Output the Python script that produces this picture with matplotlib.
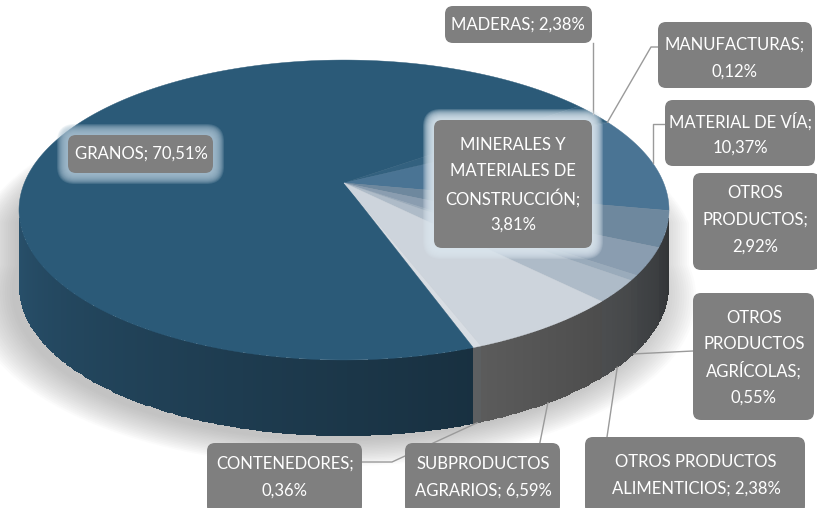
import numpy as np
import matplotlib
matplotlib.use("Agg")
import matplotlib.pyplot as plt
from matplotlib.patches import Polygon, FancyBboxPatch
from matplotlib.colors import to_rgb

# =====================================================
# DADOS
# =====================================================
categorias = ["CONTENEDORES", "GRANOS", "MADERAS", "MANUFACTURAS",
              "MATERIAL DE VÍA", "MINERALES Y MATERIALES DE CONSTRUCCIÓN",
              "OTROS PRODUCTOS", "OTROS PRODUCTOS AGRÍCOLAS",
              "OTROS PRODUCTOS ALIMENTICIOS", "SUBPRODUCTOS AGRARIOS"]
valores = [0.36, 70.51, 2.38, 0.12, 10.37, 3.81, 2.92, 0.55, 2.38, 6.59]
rotulos = [["CONTENEDORES;", "0,36%"],
           ["GRANOS; 70,51%"],
           ["MADERAS; 2,38%"],
           ["MANUFACTURAS;", "0,12%"],
           ["MATERIAL DE VÍA;", "10,37%"],
           ["MINERALES Y", "MATERIALES DE", "CONSTRUCCIÓN;", "3,81%"],
           ["OTROS", "PRODUCTOS;", "2,92%"],
           ["OTROS", "PRODUCTOS", "AGRÍCOLAS;", "0,55%"],
           ["OTROS PRODUCTOS", "ALIMENTICIOS; 2,38%"],
           ["SUBPRODUCTOS", "AGRARIOS; 6,59%"]]

# =====================================================
# ESTILO / LAYOUT
# =====================================================
cores_topo = ["#d8dde3", "#2b5a78", "#33617f", "#3b6785", "#4a7494",
              "#6e889e", "#8a9db0", "#9aabbb", "#aebbc8", "#cdd4dc"]
cores_lado = ["#a2a6aa", "#2a5470", "#2e5874", "#365e7a", "#7e868e",
              "#8e959c", "#969ca2", "#9a9fa4", "#9ea2a6", "#a0a0a0"]

# caixas (x0, y0, x1, y1) e centro do texto
caixas = [(207, 443, 362, 514), (68, 135, 213, 173), (445, 6, 592, 43),
          (658, 22, 812, 88), (665, 100, 815, 166), (434, 120, 592, 248),
          (693, 173, 820, 270), (693, 293, 814, 420), (585, 437, 805, 514),
          (405, 443, 560, 514)]
centros = [(285, 477), (141, 154), (518, 25), (735, 58), (740, 134.5),
           (513, 184.5), (755, 220), (754, 357.5), (696, 475.5), (483, 477)]
brilho = {1: "#a9c1d1", 5: "#dce7ef"}

AX, AY = 344, 183        # centro da pizza na tela
SX, SY = 319.7, 145.1    # escala
P = 0.18                 # perspectiva
PROF = 76                # espessura
INICIO = 69.1            # angulo inicial (graus, horario a partir das 3h)
W, H = 817, 508


def proj(theta, r=1.0, z=0.0):
    t = np.radians(theta)
    u = r * np.cos(t)
    v = r * np.sin(t)
    w = 1 - P * v
    return AX + SX * u / w, AY + SY * v / w + z


fig = plt.figure(figsize=(8.17, 5.08), dpi=100)

# eixo de fundo so para a sombra
ax_bg = fig.add_axes([0, 0, 1, 1])
ax_bg.set_xlim(0, W)
ax_bg.set_ylim(H, 0)
ax_bg.axis("off")
ax_bg.set_zorder(0)

ax = fig.add_axes([0, 0, 1, 1])
ax.set_xlim(0, W)
ax.set_ylim(H, 0)
ax.axis("off")
ax.set_zorder(1)
ax.patch.set_visible(False)

# =====================================================
# SOMBRA (camadas opacas, de fora para dentro)
# =====================================================
t_sup = np.linspace(180, 360, 120)
t_inf = np.linspace(0, 180, 120)
N_SOMBRA = 18
for k in range(N_SOMBRA):
    r = 1.11 - 0.007 * k
    xa, ya = proj(t_sup, r, 40)
    xb, yb = proj(t_inf, r, PROF + 6)
    poly = np.vstack([np.column_stack([xa - 10, ya]), np.column_stack([xb - 10, yb])])
    cobertura = 1 - (1 - 0.035) ** (k + 1)
    cinza = 1 - cobertura * 0.5
    ax_bg.add_patch(Polygon(poly, closed=True, fc=(cinza, cinza, cinza), ec="none"))

# =====================================================
# FATIAS
# =====================================================
angs = np.cumsum([0] + [v / sum(valores) * 360 for v in valores]) + INICIO
VIS0 = np.degrees(np.arcsin(P))
VIS1 = 180 - VIS0


def sombra(theta):
    return 0.3 + 0.7 * np.clip(theta, 0, 180) / 180


# lateral com gradiente (faixas finas)
for i in range(len(valores)):
    a0, a1 = angs[i], angs[i + 1]
    base = np.array(to_rgb(cores_lado[i]))
    for off in (0, -360, 360):
        b0, b1 = max(a0 + off, VIS0), min(a1 + off, VIS1)
        if b1 <= b0:
            continue
        ts = np.linspace(b0, b1, max(3, int((b1 - b0) * 2)))
        xs, ys = proj(ts)
        X = np.vstack([xs, xs])
        Y = np.vstack([ys, ys + PROF])
        tm = 0.5 * (ts[:-1] + ts[1:])
        C = np.clip(base[None, :] * sombra(tm)[:, None], 0, 1)[None, :, :]
        ax.pcolormesh(X, Y, C, shading="flat", zorder=3, antialiased=False)

# topo
for i in range(len(valores)):
    ts = np.linspace(angs[i], angs[i + 1], max(3, int((angs[i + 1] - angs[i]) * 2)))
    xs, ys = proj(ts)
    pts = np.vstack([[AX, AY], np.column_stack([xs, ys])])
    ax.add_patch(Polygon(pts, closed=True, fc=cores_topo[i], ec=cores_topo[i],
                         lw=0.3, zorder=4))

# =====================================================
# LINHAS DE CHAMADA
# =====================================================
meio = 0.5 * (angs[:-1] + angs[1:])
cor_linha = "#9a9a9a"


def ancora(i, lateral=False):
    return proj(meio[i], 1.0, PROF if lateral else 0)


linhas = {
    0: [ancora(0, True), (392, 462), (362, 462)],
    2: [ancora(2), (ancora(2)[0], 43)],
    3: [ancora(3), (651, 47), (658, 47)],
    4: [ancora(4), (ancora(4)[0], 124), (665, 124)],
    7: [ancora(7, True), (693, 351)],
    8: [ancora(8, True), (607, 437)],
    9: [ancora(9, True), (ancora(9, True)[0] - 8, 443)],
}
for i, pts in linhas.items():
    pts = np.array(pts)
    ax.plot(pts[:, 0], pts[:, 1], color=cor_linha, lw=1.0, zorder=5)

# =====================================================
# ROTULOS
# =====================================================
ESP = 26.5
for i in range(len(valores)):
    x0, y0, x1, y1 = caixas[i]
    if i in brilho:
        for k in range(11, 0, -1):
            ax.add_patch(FancyBboxPatch((x0 - k, y0 - k), x1 - x0 + 2 * k, y1 - y0 + 2 * k,
                                        boxstyle="round,pad=0,rounding_size=%d" % (7 + k),
                                        fc=brilho[i], ec="none", alpha=0.2, zorder=6))
    ax.add_patch(FancyBboxPatch((x0, y0), x1 - x0, y1 - y0,
                                boxstyle="round,pad=0,rounding_size=8",
                                fc="#7f7f7f", ec="none", zorder=7))
    cx, cy = centros[i]
    n = len(rotulos[i])
    for j, txt in enumerate(rotulos[i]):
        ax.text(cx, cy + (j - (n - 1) / 2) * ESP, txt, ha="center", va="center",
                color="white", fontsize=12, family="Lato", zorder=8)

ax.set_xlim(0, W)
ax.set_ylim(H, 0)
plt.savefig("out.png", dpi=100)
plt.close()
